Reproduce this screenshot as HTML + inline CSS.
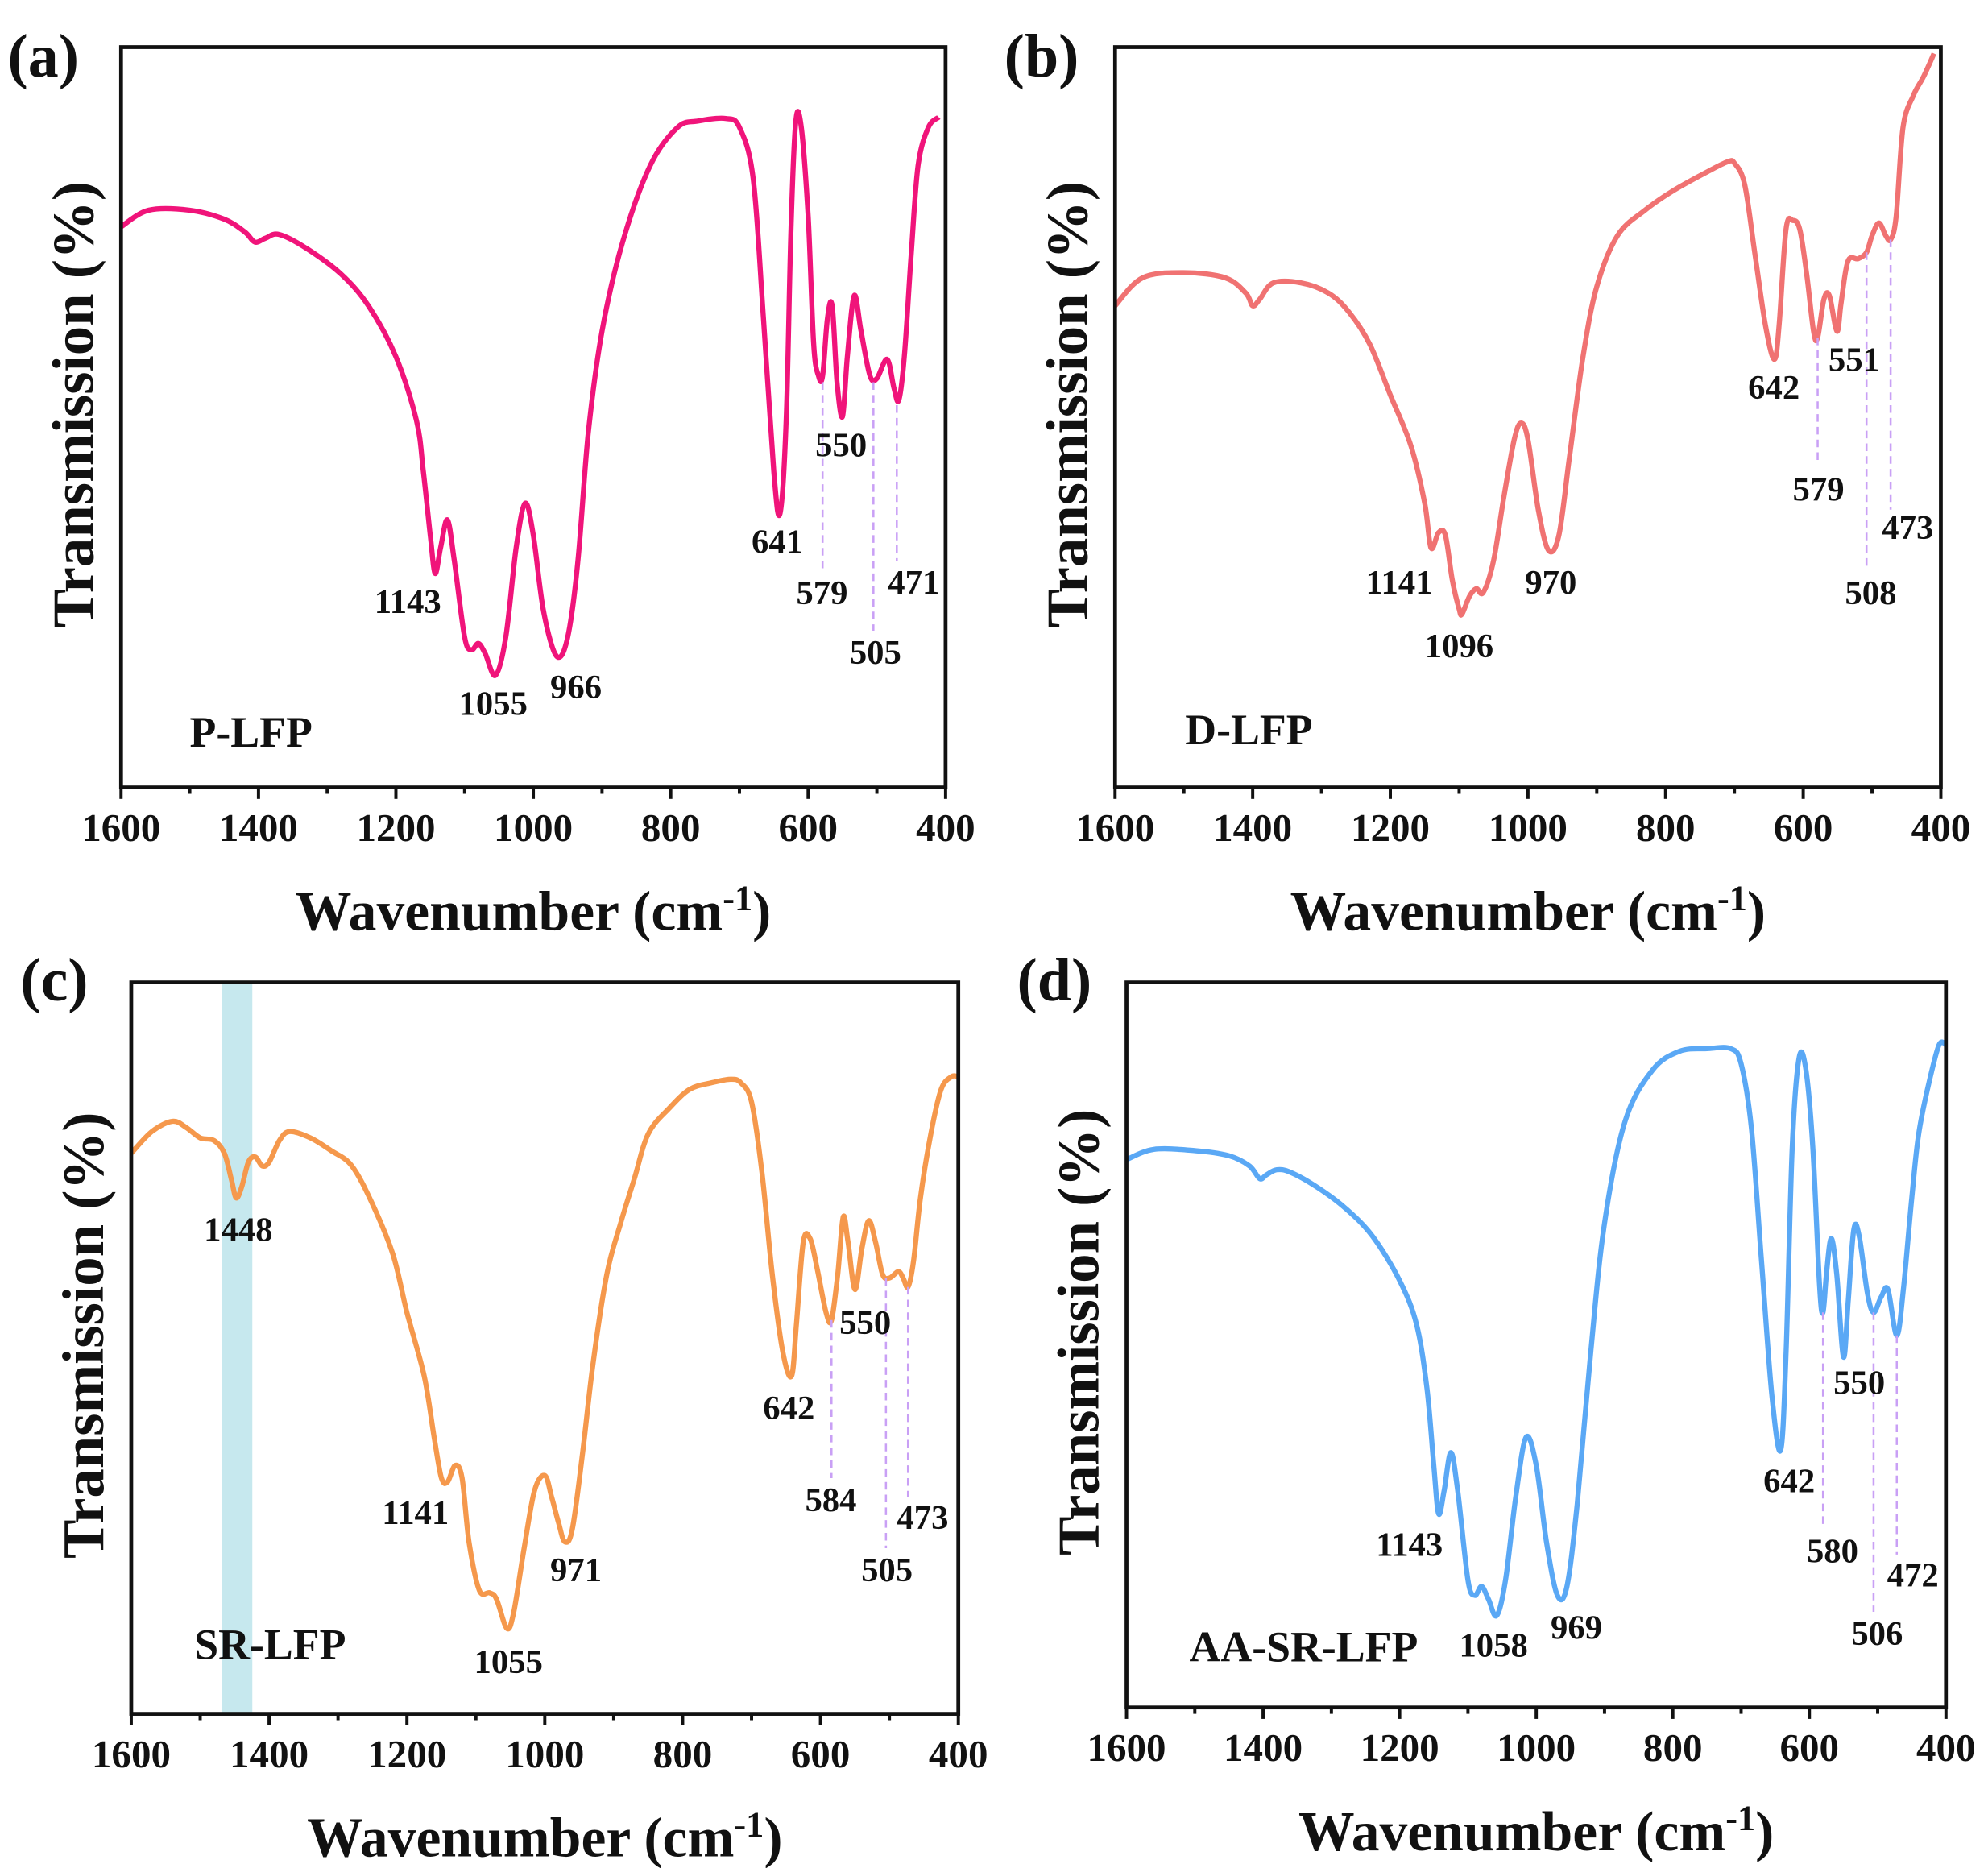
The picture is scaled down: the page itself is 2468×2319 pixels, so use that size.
<!DOCTYPE html>
<html><head><meta charset="utf-8"><style>
html,body{margin:0;padding:0;background:#fff}
svg{display:block}
text{font-family:"Liberation Serif",serif;font-weight:bold;fill:#111}
</style></head><body>
<svg id="s" width="2468" height="2319" viewBox="0 0 1560 1466" preserveAspectRatio="none" xmlns="http://www.w3.org/2000/svg">
<rect x="174" y="771" width="24" height="574" fill="#c6e8ee"/>
</svg>
<script>
const NS="http://www.w3.org/2000/svg",S=document.getElementById('s');
function el(t,a,txt){const e=document.createElementNS(NS,t);for(const k in a)e.setAttribute(k,a[k]);if(txt!==undefined)e.textContent=txt;S.appendChild(e);return e;}
function path(pts){let d="M"+pts[0][0]+","+pts[0][1];for(let i=0;i<pts.length-1;i++){const p0=pts[Math.max(0,i-1)],p1=pts[i],p2=pts[i+1],p3=pts[Math.min(pts.length-1,i+2)];const c1=[p1[0]+(p2[0]-p0[0])/6,p1[1]+(p2[1]-p0[1])/6],c2=[p2[0]-(p3[0]-p1[0])/6,p2[1]-(p3[1]-p1[1])/6];d+=` C${c1[0].toFixed(1)},${c1[1].toFixed(1)} ${c2[0].toFixed(1)},${c2[1].toFixed(1)} ${p2[0].toFixed(1)},${p2[1].toFixed(1)}`;}return d;}
function panel(P){
 const X=w=>P.x0+(1600-w)/1200*(P.x1-P.x0);
 el('path',{d:path(P.data.map(p=>[X(p[0]),p[1]])),fill:'none',stroke:P.col,'stroke-width':4,'stroke-linejoin':'round'});
 P.dash.forEach(d=>el('line',{x1:X(d[0]),x2:X(d[0]),y1:d[1],y2:d[2],stroke:'#c9a0f5','stroke-width':1.6,'stroke-dasharray':'6,4'}));
 el('rect',{x:P.x0,y:P.y0,width:P.x1-P.x0,height:P.y1-P.y0,fill:'none',stroke:'#111','stroke-width':3});
 for(let w=1600;w>=400;w-=100){const x=X(w);el('line',{x1:x,x2:x,y1:P.y1,y2:P.y1+(w%200==0?9:5),stroke:'#111','stroke-width':2.5});
  if(w%200==0)el('text',{x:x,y:P.y1+42,'text-anchor':'middle','font-size':31},w);}
 const t=el('text',{x:(P.x0+P.x1)/2,y:P.y1+112,'text-anchor':'middle','font-size':44},'Wavenumber (cm');
 const ts=document.createElementNS(NS,'tspan');ts.setAttribute('dy',-16);ts.setAttribute('font-size',28);ts.textContent='-1';t.appendChild(ts);
 const ts2=document.createElementNS(NS,'tspan');ts2.setAttribute('dy',16);ts2.textContent=')';t.appendChild(ts2);
 el('text',{x:0,y:0,'text-anchor':'middle','font-size':46,transform:`translate(${P.x0-22},${(P.y0+P.y1)/2-10}) rotate(-90)`},'Transmission (%)');
 el('text',{x:P.lx,y:P.ly,'font-size':48},P.letter);
 el('text',{x:P.nx,y:P.ny,'text-anchor':'middle','font-size':34},P.name);
 P.ann.forEach(a=>el('text',{x:a[1],y:a[2],'text-anchor':'middle','font-size':27},a[0]));
}
panel({x0:95,x1:742,y0:37,y1:618,col:'#f0147a',letter:'(a)',lx:6,ly:60,name:'P-LFP',nx:197,ny:586,
data:[[1600,178],[1560,165],[1500,165],[1450,172],[1420,182],[1405,190],[1390,187],[1370,184],[1330,195],[1280,215],[1240,240],[1200,280],[1170,330],[1160,370],[1150,420],[1143,450],[1135,430],[1125,408],[1115,440],[1100,500],[1090,510],[1080,505],[1070,513],[1055,530],[1040,500],[1025,430],[1012,395],[1000,420],[985,480],[966,515],[950,500],[935,440],[920,340],[900,260],[870,190],[830,130],[790,100],[760,95],[720,93],[700,100],[680,140],[665,250],[650,370],[641,403],[632,330],[625,180],[618,95],[610,100],[600,170],[592,270],[585,295],[579,295],[572,250],[565,240],[558,300],[550,327],[543,280],[533,232],[523,260],[510,295],[500,297],[485,282],[475,305],[468,314],[460,280],[450,200],[440,130],[425,100],[410,92]],
dash:[[579,300,448],[505,300,495],[471,318,440]],
ann:[['1143',320,481],['1055',387,561],['966',452,548],['641',610,434],['579',645,474],['550',660,358],['505',687,521],['471',717,466]]});
panel({x0:875,x1:1523,y0:37,y1:618,col:'#f07272',letter:'(b)',lx:788,ly:60,name:'D-LFP',nx:980,ny:584,
data:[[1600,240],[1560,218],[1500,214],[1440,218],[1410,230],[1400,240],[1390,235],[1370,222],[1330,222],[1290,230],[1260,245],[1230,270],[1200,310],[1170,350],[1150,395],[1141,430],[1130,418],[1120,420],[1110,455],[1100,478],[1096,482],[1085,468],[1075,462],[1065,465],[1050,440],[1035,390],[1020,345],[1010,332],[1000,345],[985,400],[970,432],[955,420],[940,360],[920,280],[900,225],[870,185],[830,165],[790,150],[740,135],[710,127],[700,128],[685,145],[670,200],[655,255],[642,282],[635,255],[625,180],[615,173],[605,180],[595,215],[585,260],[579,265],[570,235],[562,232],[551,260],[545,238],[535,205],[520,203],[508,198],[500,185],[490,175],[480,185],[473,188],[465,170],[455,100],[440,75],[425,60],[410,42]],
dash:[[579,265,365],[508,198,445],[473,188,400]],
ann:[['1141',1098,466],['1096',1145,516],['970',1217,466],['642',1392,313],['551',1455,291],['579',1427,393],['508',1468,474],['473',1497,423]]});
panel({x0:103,x1:752,y0:771,y1:1345,col:'#f5984c',letter:'(c)',lx:16,ly:785,name:'SR-LFP',nx:212,ny:1302,
data:[[1600,905],[1570,888],[1540,880],[1520,885],[1500,893],[1480,895],[1465,905],[1455,925],[1448,940],[1440,932],[1430,912],[1420,908],[1410,915],[1400,912],[1385,895],[1370,888],[1340,893],[1310,903],[1280,915],[1250,945],[1220,985],[1200,1030],[1175,1080],[1160,1130],[1150,1160],[1141,1163],[1130,1150],[1120,1160],[1110,1210],[1095,1248],[1080,1250],[1070,1255],[1055,1278],[1045,1265],[1030,1215],[1015,1170],[1000,1158],[990,1175],[980,1195],[971,1210],[960,1200],[945,1140],[930,1070],[910,1000],[890,960],[870,925],[850,890],[820,870],[790,855],[760,850],[730,847],[715,850],[700,865],[685,920],[670,1000],[655,1060],[642,1080],[635,1040],[625,975],[615,972],[605,995],[592,1030],[584,1036],[575,1000],[567,955],[560,975],[550,1012],[540,980],[530,958],[520,975],[510,1000],[500,1003],[487,998],[480,1003],[473,1010],[465,990],[455,940],[440,890],[425,855],[410,845],[400,845]],
dash:[[584,1036,1160],[505,1003,1215],[473,1010,1175]],
ann:[['1448',187,974],['1141',326,1196],['1055',399,1313],['971',452,1241],['642',619,1114],['584',652,1186],['550',679,1047],['505',696,1241],['473',724,1200]]});
panel({x0:884,x1:1527,y0:771,y1:1340,col:'#5aa8f5',letter:'(d)',lx:798,ly:785,name:'AA-SR-LFP',nx:1023,ny:1304,
data:[[1600,910],[1560,902],[1500,903],[1450,907],[1420,915],[1405,925],[1395,922],[1380,918],[1360,920],[1320,932],[1280,948],[1240,970],[1200,1005],[1175,1040],[1160,1090],[1150,1150],[1143,1188],[1135,1170],[1125,1140],[1115,1170],[1100,1240],[1090,1252],[1080,1245],[1070,1255],[1058,1268],[1045,1240],[1030,1175],[1015,1128],[1000,1150],[985,1210],[969,1252],[955,1245],[940,1180],[920,1060],[900,960],[870,880],[830,840],[790,825],[750,823],[715,823],[700,835],[685,885],[670,990],[655,1095],[642,1138],[634,1060],[625,900],[615,830],[605,840],[595,900],[585,1010],[580,1030],[575,1000],[568,972],[560,1000],[550,1065],[543,1020],[535,965],[527,970],[515,1015],[506,1030],[495,1018],[485,1012],[472,1048],[462,1010],[450,940],[440,890],[425,850],[410,820],[400,820]],
dash:[[580,1030,1200],[506,1030,1265],[472,1048,1220]],
ann:[['1143',1106,1221],['1058',1172,1300],['969',1237,1286],['642',1404,1171],['550',1459,1094],['580',1438,1226],['506',1473,1291],['472',1501,1245]]});
</script>
</body></html>
